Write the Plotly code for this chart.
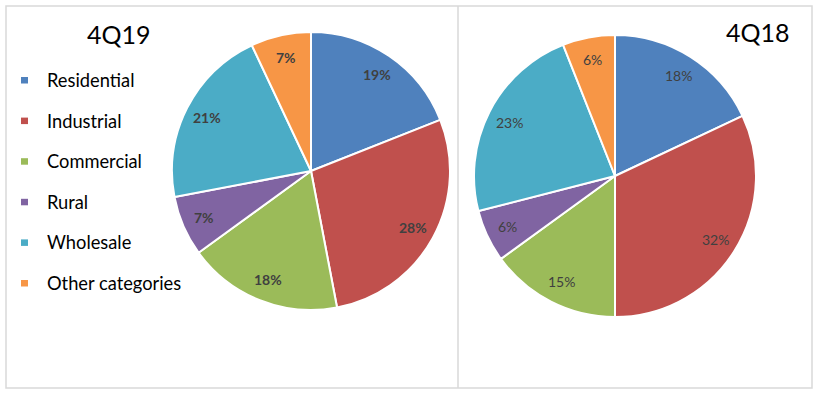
import math
import plotly.graph_objects as go

categories = ["Residential", "Industrial", "Commercial", "Rural", "Wholesale", "Other categories"]
values_4q19 = [19, 28, 18, 7, 21, 7]
values_4q18 = [18, 32, 15, 6, 23, 6]
titles = ["4Q19", "4Q18"]
colors = ["#4F81BD", "#C0504D", "#9BBB59", "#8064A2", "#4BACC6", "#F79646"]

W, H = 819, 396
FONT = "Lato"

def px_x(v):
    return v / W

def px_y(v):
    return 1 - v / H

# pie placements (pixel centre, radius) and label styles
pies = [
    dict(values=values_4q19, cx=311, cy=171, r=139, bold=True),
    dict(values=values_4q18, cx=615, cy=176, r=141, bold=False),
]

fig = go.Figure()
annotations = []

for p in pies:
    fig.add_trace(go.Pie(
        labels=categories, values=p["values"], sort=False, direction="clockwise", rotation=0,
        marker=dict(colors=colors, line=dict(color="white", width=2)),
        textinfo="none", hoverinfo="label+percent",
        domain=dict(x=[px_x(p["cx"] - p["r"]), px_x(p["cx"] + p["r"])],
                    y=[px_y(p["cy"] + p["r"]), px_y(p["cy"] - p["r"])]),
        showlegend=False,
    ))
    total = sum(p["values"])
    cum = 0.0
    for v in p["values"]:
        mid = (cum + v / 2) / total * 2 * math.pi
        cum += v
        d = 0.84 * p["r"]
        lx = p["cx"] + d * math.sin(mid)
        ly = p["cy"] - d * math.cos(mid)
        txt = f"{round(100 * v / total)}%"
        if p["bold"]:
            txt = f"<b>{txt}</b>"
        annotations.append(dict(text=txt, x=px_x(lx), y=px_y(ly), xref="paper", yref="paper",
                                showarrow=False, xanchor="center", yanchor="middle",
                                font=dict(family=FONT, size=14, color="#404040")))

shapes = [
    dict(type="rect", xref="paper", yref="paper", x0=px_x(6), x1=px_x(812), y0=px_y(388), y1=px_y(6),
         line=dict(color="#D9D9D9", width=1.5), fillcolor="rgba(0,0,0,0)", layer="below"),
    dict(type="line", xref="paper", yref="paper", x0=px_x(458), x1=px_x(458), y0=px_y(388), y1=px_y(6),
         line=dict(color="#D9D9D9", width=1.5)),
]
annotations += [
    dict(text=titles[0], x=px_x(119), y=px_y(34), xref="paper", yref="paper", showarrow=False,
         xanchor="center", yanchor="middle", font=dict(family=FONT, size=25, color="black")),
    dict(text=titles[1], x=px_x(758), y=px_y(32), xref="paper", yref="paper", showarrow=False,
         xanchor="center", yanchor="middle", font=dict(family=FONT, size=25, color="black")),
]

leg_y0, leg_step = 80, 40.6
for i, (cat, col) in enumerate(zip(categories, colors)):
    yc = leg_y0 + i * leg_step
    shapes.append(dict(type="rect", xref="paper", yref="paper",
                       x0=px_x(21), x1=px_x(28), y0=px_y(yc + 3.5), y1=px_y(yc - 3),
                       fillcolor=col, line=dict(width=0)))
    annotations.append(dict(text=cat, x=px_x(45), y=px_y(yc), xref="paper", yref="paper",
                            showarrow=False, xanchor="left", yanchor="middle",
                            font=dict(family=FONT, size=18.3, color="black")))

fig.update_layout(
    width=W, height=H, margin=dict(l=0, r=0, t=0, b=0),
    paper_bgcolor="white", plot_bgcolor="white",
    shapes=shapes, annotations=annotations, showlegend=False,
)

fig.write_html("out.html", config={"displayModeBar": False},
               post_script="document.body.style.margin='0';document.body.style.overflow='hidden';")
